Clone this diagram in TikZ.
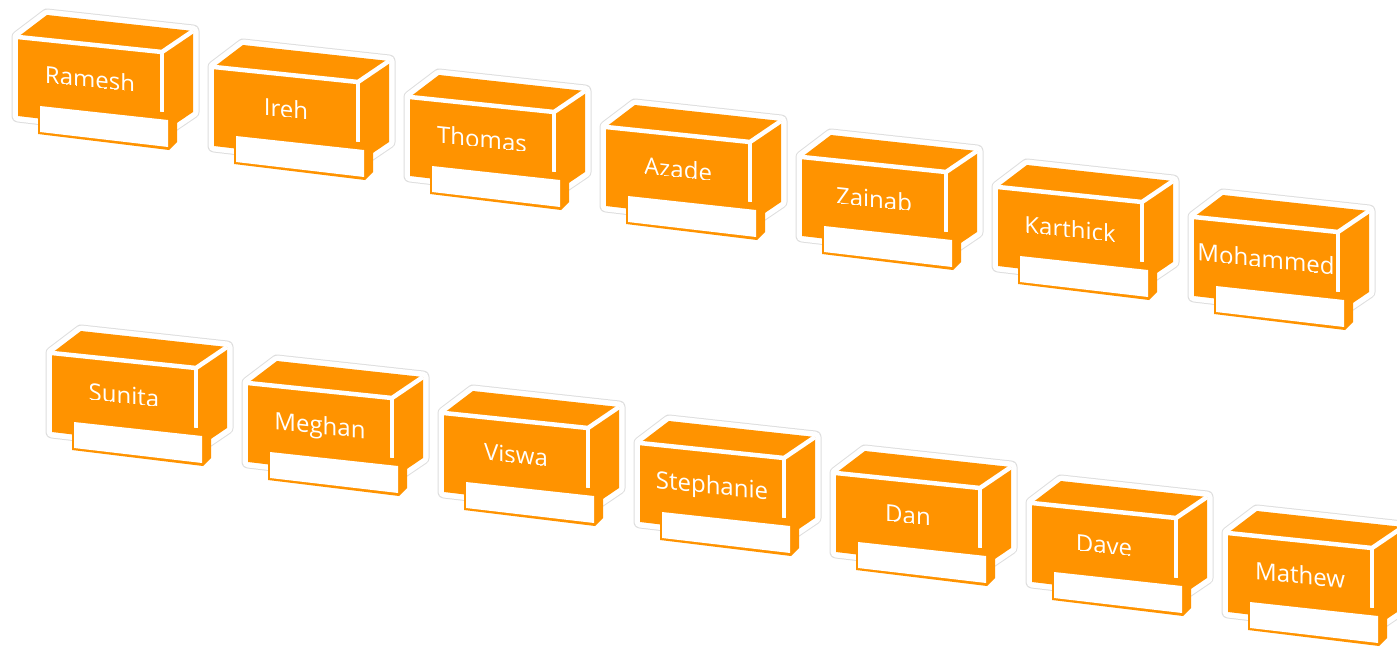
\documentclass[tikz,border=0pt]{standalone}
\usepackage{fontspec}
\setmainfont{Open Sans}
\definecolor{boxorange}{RGB}{255,147,0}
\definecolor{halogray}{RGB}{222,222,222}
\tikzset{
  halo/.style={draw=halogray, line width=13pt, line join=round, fill=white},
  haloin/.style={draw=white, line width=11pt, line join=round},
  face/.style={fill=boxorange},
  boxedge/.style={draw=white, line width=4.5pt, line cap=butt, line join=miter},
  tagback/.style={fill=boxorange},
  tagface/.style={fill=white},
  nametext/.style={text=white, inner sep=0pt, anchor=base, yslant=-0.105,
    font=\fontsize{24}{28}\selectfont}
}
% #1,#2 shift, #3 node name, #4 text, #5 how far above the baseline the text is cut
\newcommand\cardbox[5]{%
  \begin{scope}[shift={(#1,#2)}]
    \path[halo] (18,37) -- (47,15) -- (193,31) -- (193,112) -- (162,133) -- (18,116) -- cycle;
    \path[haloin] (18,37) -- (47,15) -- (193,31) -- (193,112) -- (162,133) -- (18,116) -- cycle;
    \fill[face] (18,37) -- (47,15) -- (193,31) -- (193,112) -- (162,133) -- (18,116) -- cycle;
    \draw[boxedge] (18,37) -- (162,52) -- (193,31);
    \draw[boxedge] (162,52) -- (162,117);
    \fill[tagback] (38,104) -- (177,113) -- (177,142) -- (169,150) -- (38,134) -- cycle;
    \fill[tagface] (40,106) -- (168,120) -- (168,147) -- (40,132) -- cycle;
    \begin{scope}
      \clip (-10,0) -- (210,0) -- (210,{88+0.105*120-#5}) -- (-10,{88-0.105*100-#5}) -- cycle;
      \node[nametext] (#3) at (90,88) {#4};
    \end{scope}
  \end{scope}}
\begin{document}
\begin{tikzpicture}[x=1pt, y=-1pt]
  \useasboundingbox (0,0) rectangle (1397,646);
  \cardbox{0}{0}{ramesh}{Ramesh}{1.5}
  \cardbox{196}{30}{ireh}{Ireh}{1.5}
  \cardbox{392}{60}{thomas}{Thomas}{1.5}
  \cardbox{588}{90}{azade}{Azade}{1.5}
  \cardbox{784}{120}{zainab}{Zainab}{1.5}
  \cardbox{980}{150}{karthick}{Karthick}{1.5}
  \cardbox{1176}{180}{mohammed}{Mohammed}{1}
  \cardbox{34}{316}{sunita}{Sunita}{1.5}
  \cardbox{230}{346}{meghan}{Meghan}{-20}
  \cardbox{426}{376}{viswa}{Viswa}{1.5}
  \cardbox{622}{406}{stephanie}{Stephanie}{-20}
  \cardbox{818}{436}{dan}{Dan}{1.5}
  \cardbox{1014}{466}{dave}{Dave}{1.5}
  \cardbox{1210}{496}{mathew}{Mathew}{-20}
\end{tikzpicture}
\end{document}
